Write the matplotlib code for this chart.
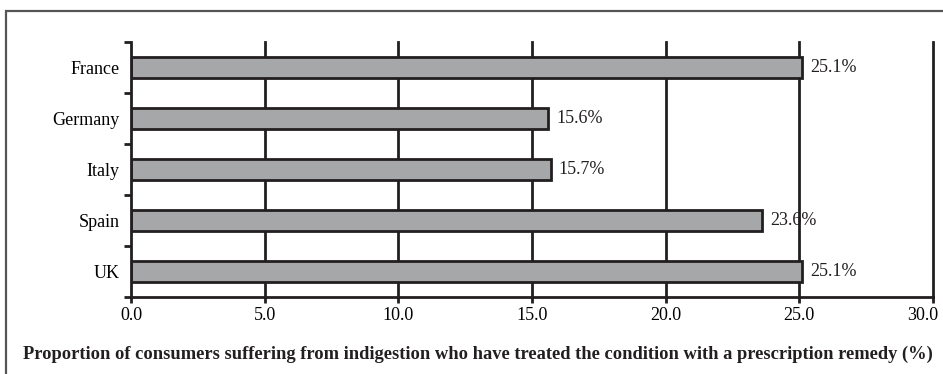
import matplotlib.pyplot as plt
from matplotlib.patches import Rectangle
from matplotlib.transforms import ScaledTranslation

countries = ["France", "Germany", "Italy", "Spain", "UK"]
values = [25.1, 15.6, 15.7, 23.6, 25.1]
xticks = [0, 5, 10, 15, 20, 25, 30]
title = "Proportion of consumers suffering from indigestion who have treated the condition with a prescription remedy (%)"

plt.rcParams['font.family'] = ['Liberation Serif', 'DejaVu Serif']
fs = 13

fig = plt.figure(figsize=(9.43, 3.74), dpi=100)
# outer frame
fig.patches.append(Rectangle((5.5 / 943, -0.05), 1.1, 1 - 10.5 / 374 + 0.05,
                             transform=fig.transFigure, fill=False,
                             edgecolor='#555555', linewidth=1.6))

ax = fig.add_axes([131 / 943, 1 - 297 / 374, (933 - 131) / 943, 255 / 374])

pos = list(range(len(countries)))[::-1]
ax.barh(pos, values, height=0.4, color='#a6a7a9', edgecolor='#231f20',
        linewidth=2, zorder=3)
for p, v in zip(pos, values):
    ax.text(v + 0.3, p, "%.1f%%" % v, va='center', ha='left', fontsize=fs,
            color='#231f20')

# vertical grid lines (drawn so the one at 30 is not clipped)
for t in xticks[1:]:
    ax.axvline(t, color='#231f20', linewidth=2, zorder=0, clip_on=False)

ax.set_xlim(0, 30)
ax.set_ylim(-0.5, len(countries) - 0.5)
ax.set_xticks(xticks)
ax.set_xticklabels(["%.1f" % t for t in xticks], fontsize=fs)
ax.set_yticks(pos)
ax.set_yticklabels(countries, fontsize=fs)
ax.set_yticks([i - 0.5 for i in range(len(countries) + 1)], minor=True)
ax.tick_params(axis='y', which='major', length=0, pad=8)
ax.tick_params(axis='y', which='minor', length=5, width=2, color='#231f20')
ax.tick_params(axis='x', length=4, width=2, color='#231f20', pad=3)

# keep last x label inside the picture
last = ax.get_xticklabels()[-1]
last.set_transform(last.get_transform() + ScaledTranslation(-10 / 100, 0, fig.dpi_scale_trans))

for s in ['top', 'right']:
    ax.spines[s].set_visible(False)
for s in ['left', 'bottom']:
    ax.spines[s].set_linewidth(2)
    ax.spines[s].set_color('#231f20')
    ax.spines[s].set_zorder(4)

fig.text(477.5 / 943, 1 - 354 / 374, title, ha='center', va='center', fontsize=13.35,
         fontweight='bold', color='#231f20')

fig.savefig("out.png", dpi=100)
